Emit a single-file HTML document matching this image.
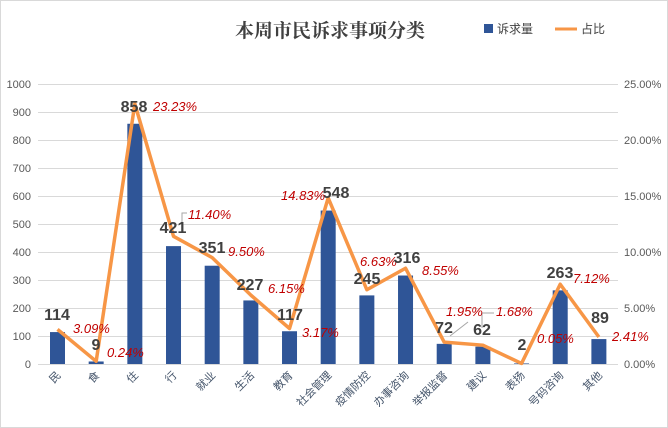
<!DOCTYPE html>
<html><head><meta charset="utf-8"><style>
html,body{margin:0;padding:0;background:#fff}
svg{display:block}
text{font-family:"Liberation Sans","Noto Sans CJK SC",sans-serif}
.ax{font-size:11px;fill:#595959}
.v{font-size:16px;font-weight:bold;fill:#404040;text-anchor:middle}
.p{font-size:13px;font-style:italic;fill:#c00000}
.c{font-size:11px;fill:#44546a;text-anchor:end}
</style></head><body>
<svg width="668" height="428" viewBox="0 0 668 428">
<rect x="0.5" y="0.5" width="667" height="427" fill="#fff" stroke="#d9d9d9"/>
<text x="330" y="37" text-anchor="middle" style="font-family:'Liberation Serif','Noto Serif CJK SC',serif;font-size:19px;fill:#404040;font-weight:bold">本周市民诉求事项分类</text>
<rect x="484" y="24" width="9" height="9" fill="#2f5597"/>
<text x="497" y="33" style="font-size:12px;fill:#404040">诉求量</text>
<line x1="555" y1="29" x2="577" y2="29" stroke="#f79646" stroke-width="3"/>
<text x="581" y="33" style="font-size:12px;fill:#404040">占比</text>
<g stroke="#d9d9d9" stroke-width="1">
<line x1="38" x2="618" y1="84.5" y2="84.5"/><line x1="38" x2="618" y1="112.5" y2="112.5"/><line x1="38" x2="618" y1="140.5" y2="140.5"/><line x1="38" x2="618" y1="168.5" y2="168.5"/><line x1="38" x2="618" y1="196.5" y2="196.5"/><line x1="38" x2="618" y1="224.5" y2="224.5"/><line x1="38" x2="618" y1="252.5" y2="252.5"/><line x1="38" x2="618" y1="280.5" y2="280.5"/><line x1="38" x2="618" y1="308.5" y2="308.5"/><line x1="38" x2="618" y1="336.5" y2="336.5"/><line x1="38" x2="618" y1="364.5" y2="364.5"/>
</g>
<g class="ax" text-anchor="end">
<text x="31" y="88">1000</text><text x="31" y="116">900</text><text x="31" y="144">800</text><text x="31" y="172">700</text><text x="31" y="200">600</text><text x="31" y="228">500</text><text x="31" y="256">400</text><text x="31" y="284">300</text><text x="31" y="312">200</text><text x="31" y="340">100</text><text x="31" y="368">0</text>
</g>
<g class="ax">
<text x="624" y="88">25.00%</text><text x="624" y="144">20.00%</text><text x="624" y="200">15.00%</text><text x="624" y="256">10.00%</text><text x="624" y="312">5.00%</text><text x="624" y="368">0.00%</text>
</g>
<g fill="#2f5597" id="bars"></g>
<polyline id="ln" fill="none" stroke="#f79646" stroke-width="3.5" stroke-linejoin="round"/>
<g id="cats"></g>
<g stroke="#a6a6a6" fill="none" stroke-width="1">
<polyline points="182,222 182,213 187,213"/><polyline points="482,328 482,313 494,313"/><polyline points="450,336 468,322"/>
</g>
<g>
<text class="v" x="57" y="320">114</text><text class="p" x="73" y="333">3.09%</text>
<text class="v" x="96" y="350">9</text><text class="p" x="107" y="357">0.24%</text>
<text class="v" x="134" y="112">858</text><text class="p" x="153" y="111">23.23%</text>
<text class="v" x="173" y="233">421</text><text class="p" x="188" y="219">11.40%</text>
<text class="v" x="212" y="253">351</text><text class="p" x="228" y="256">9.50%</text>
<text class="v" x="250" y="290">227</text><text class="p" x="268" y="293">6.15%</text>
<text class="v" x="290" y="320">117</text><text class="p" x="302" y="337">3.17%</text>
<text class="v" x="336" y="198">548</text><text class="p" x="281" y="200">14.83%</text>
<text class="v" x="367" y="284">245</text><text class="p" x="360" y="266">6.63%</text>
<text class="v" x="407" y="263">316</text><text class="p" x="422" y="275">8.55%</text>
<text class="v" x="444" y="333">72</text><text class="p" x="446" y="316">1.95%</text>
<text class="v" x="482" y="335">62</text><text class="p" x="496" y="316">1.68%</text>
<text class="v" x="522" y="350">2</text><text class="p" x="537" y="343">0.05%</text>
<text class="v" x="560" y="278">263</text><text class="p" x="573" y="283">7.12%</text>
<text class="v" x="600" y="323">89</text><text class="p" x="612" y="341">2.41%</text>
</g>
<script>
var v=[114,9,858,421,351,227,117,548,245,316,72,62,2,263,89];
var p=[3.09,0.24,23.23,11.40,9.50,6.15,3.17,14.83,6.63,8.55,1.95,1.68,0.05,7.12,2.41];
var c=["民","食","住","行","就业","生活","教育","社会管理","疫情防控","办事咨询","举报监督","建议","表扬","号码咨询","其他"];
var ns="http://www.w3.org/2000/svg",b=document.getElementById("bars"),g=document.getElementById("cats"),pts=[];
for(var i=0;i<15;i++){var x=57.5+i*38.67,h=v[i]*0.28;
var r=document.createElementNS(ns,"rect");r.setAttribute("x",x-7.5);r.setAttribute("y",364-h);r.setAttribute("width",15);r.setAttribute("height",h);b.appendChild(r);
pts.push(x+","+(364-p[i]*11.2));
var t=document.createElementNS(ns,"text");t.setAttribute("class","c");t.setAttribute("transform","translate("+(x+4)+",376) rotate(-45)");t.textContent=c[i];g.appendChild(t);}
document.getElementById("ln").setAttribute("points",pts.join(" "));
</script>
</svg>
</body></html>
